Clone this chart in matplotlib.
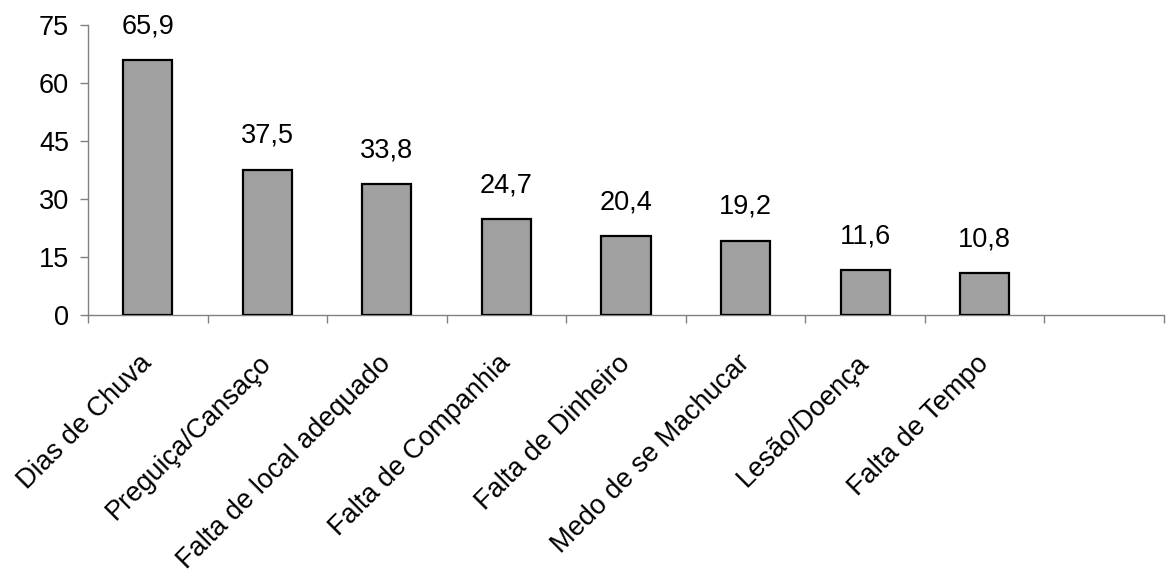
import matplotlib
matplotlib.use("Agg")
import matplotlib.pyplot as plt
import numpy as np

categories = ["Dias de Chuva", "Preguiça/Cansaço", "Falta de local adequado",
              "Falta de Companhia", "Falta de Dinheiro", "Medo de se Machucar",
              "Lesão/Doença", "Falta de Tempo"]
values = [65.9, 37.5, 33.8, 24.7, 20.4, 19.2, 11.6, 10.8]
value_labels = ["65,9", "37,5", "33,8", "24,7", "20,4", "19,2", "11,6", "10,8"]
yticks = [0, 15, 30, 45, 60, 75]
n_slots = 9

plt.rcParams['font.family'] = ['Liberation Sans', 'DejaVu Sans']
FS = 19.5

fig = plt.figure(figsize=(11.67, 5.74), dpi=100)
ax = fig.add_axes([88/1167, (574-315)/574, (1164-88)/1167, (315-25)/574])

x = np.arange(len(values)) + 0.5
bars = ax.bar(x, values, width=0.41, color="#a0a0a0", edgecolor="black", linewidth=1.6, zorder=3)

for xi, v, lab in zip(x, values, value_labels):
    ax.annotate(lab, (xi, v), xytext=(0, 19.5), textcoords="offset points",
                ha="center", va="baseline", fontsize=FS)

ax.set_xlim(0, n_slots)
ax.set_ylim(0, 75)
ax.set_yticks(yticks)
ax.set_yticklabels([str(t) for t in yticks], fontsize=FS)

ax.set_xticks(np.arange(n_slots + 1))
ax.set_xticklabels([])
ax.set_xticks(x, minor=True)
ax.set_xticklabels(categories, minor=True, rotation=45, ha="right", va="center",
                   rotation_mode="anchor", fontsize=FS)

ax.tick_params(axis="x", which="major", direction="out", length=6, width=1, color="#808080")
ax.tick_params(axis="x", which="minor", length=0, pad=32)
ax.tick_params(axis="y", direction="out", length=5.5, width=1, color="#808080", pad=8)

for s in ["top", "right"]:
    ax.spines[s].set_visible(False)
for s in ["left", "bottom"]:
    ax.spines[s].set_color("#808080")
    ax.spines[s].set_linewidth(1)

fig.savefig("out.png", dpi=100)
